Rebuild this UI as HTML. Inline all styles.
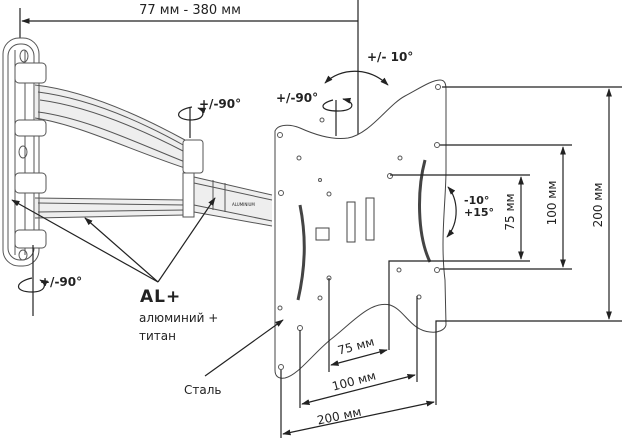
<!DOCTYPE html>
<html><head><meta charset="utf-8"><style>
html,body{margin:0;padding:0;background:#fff;width:622px;height:448px;overflow:hidden}
svg{display:block}
text{font-family:"DejaVu Sans","Liberation Sans",sans-serif;fill:#222}
</style></head><body>
<svg width="622" height="448" viewBox="0 0 622 448" xmlns="http://www.w3.org/2000/svg">
<defs>
<marker id="a" viewBox="0 0 10 10" refX="9" refY="5" markerWidth="7" markerHeight="7" orient="auto-start-reverse"><path d="M0,1.5 L10,5 L0,8.5 z" fill="#222"/></marker>
</defs>
<g fill="none" stroke="#222" stroke-width="1.2">
<line x1="20" y1="8" x2="20" y2="38"/>
<line x1="358" y1="0" x2="358" y2="140"/>
<line x1="22" y1="21" x2="358" y2="21" marker-start="url(#a)"/>
</g>
<text x="190" y="14" font-size="13" text-anchor="middle">77 мм - 380 мм</text>

<!-- arms fill -->
<path d="M35,85 C80,90 130,110 185,140 L185,168 C130,150 80,125 35,118 Z" fill="#eee"/>
<path d="M35,198 L185,200 L185,215 L35,218 Z" fill="#eee"/>
<path d="M194,177 L272,195 L272,226 L194,212 Z" fill="#eee"/>
<!-- wall plate -->
<g fill="none" stroke="#555" stroke-width="1">
<rect x="3" y="38" width="36" height="228" rx="16"/>
<rect x="8" y="44" width="26" height="216" rx="12"/>
<line x1="15" y1="50" x2="15" y2="255"/><line x1="25" y1="50" x2="25" y2="255"/>
<ellipse cx="24" cy="56" rx="4" ry="6"/><ellipse cx="23" cy="152" rx="4" ry="6"/><ellipse cx="23" cy="255" rx="4" ry="5"/>
<rect x="15" y="63" width="31" height="20" rx="4" fill="#fff"/>
<rect x="15" y="120" width="31" height="16" rx="4" fill="#fff"/>
<rect x="15" y="173" width="31" height="20" rx="4" fill="#fff"/>
<rect x="15" y="230" width="31" height="18" rx="4" fill="#fff"/>
<path d="M35,85 C80,90 130,110 185,140"/>
<path d="M35,118 C80,125 130,150 185,168"/>
<path d="M38,92 C85,98 135,118 185,146"/>
<path d="M38,112 C85,118 135,142 185,162"/>
<path d="M40,100 C85,106 135,126 185,152"/>
<path d="M35,198 L185,200"/><path d="M35,218 L185,215"/>
<path d="M38,203 L185,205"/><path d="M38,212 L185,210"/>
<rect x="183" y="140" width="20" height="33" rx="3" fill="#fff"/>
<rect x="183" y="173" width="11" height="44" fill="#fff"/>
<path d="M194,177 L272,195"/><path d="M194,212 L272,226"/>
<path d="M194,183 L272,200"/><path d="M194,205 L272,221"/>
<line x1="213" y1="180" x2="213" y2="210"/><line x1="225" y1="183" x2="225" y2="212"/>
</g>
<text x="232" y="206" font-size="4" fill="#333">ALUMINIUM</text>

<!-- plate -->
<g fill="none" stroke="#444" stroke-width="1">
<path d="M275,131 C278,124 290,124 300,128 C320,137 335,140 348,138 C370,134 388,105 405,96 C420,88 432,80 440,80 C445,80 446,84 446,90 L446,170 C446,200 440,240 445,280 L446,325 C445,330 438,333 430,332 C410,330 405,310 390,305 C370,300 350,325 330,340 C312,355 298,375 285,378 C278,379 275,376 275,370 Z" fill="#fff"/>
<path d="M300,205 C306,235 306,265 298,300" stroke-width="3"/>
<path d="M425,160 C417,190 417,235 430,262" stroke-width="3"/>
<rect x="347" y="202" width="8" height="40"/><rect x="366" y="198" width="8" height="42"/>
<rect x="316" y="228" width="13" height="12"/>
</g>
<g fill="none" stroke="#555" stroke-width="1">
<circle cx="438" cy="87" r="2.5"/><circle cx="437" cy="145" r="2.5"/><circle cx="390" cy="176" r="2.5"/>
<circle cx="437" cy="270" r="2.5"/><circle cx="399" cy="270" r="2"/><circle cx="419" cy="297" r="2"/>
<circle cx="280" cy="135" r="2.5"/><circle cx="299" cy="158" r="2"/><circle cx="400" cy="158" r="2"/>
<circle cx="322" cy="120" r="2"/><circle cx="281" cy="193" r="2.5"/><circle cx="329" cy="278" r="2"/>
<circle cx="320" cy="298" r="2"/><circle cx="300" cy="328" r="2.5"/><circle cx="281" cy="367" r="2.5"/>
<circle cx="280" cy="308" r="2"/><circle cx="329" cy="194" r="2"/><circle cx="320" cy="180" r="1.5"/>
</g>

<g fill="none" stroke="#222" stroke-width="1.2">
<line x1="442" y1="87" x2="622" y2="87"/>
<line x1="440" y1="145" x2="572" y2="145"/>
<line x1="390" y1="175" x2="530" y2="175"/>
<polyline points="389,350 389,261 530,261"/>
<line x1="440" y1="269" x2="572" y2="269"/>
<polyline points="436,405 436,321 622,321"/>
<line x1="609" y1="89" x2="609" y2="319" marker-start="url(#a)" marker-end="url(#a)"/>
<line x1="563" y1="147" x2="563" y2="267" marker-start="url(#a)" marker-end="url(#a)"/>
<line x1="521" y1="177" x2="521" y2="259" marker-start="url(#a)" marker-end="url(#a)"/>
<line x1="329" y1="278" x2="329" y2="372"/>
<line x1="417" y1="296" x2="417" y2="382"/>
<line x1="300" y1="330" x2="300" y2="408"/>
<line x1="281" y1="370" x2="281" y2="438"/>
<line x1="331" y1="365" x2="387" y2="350" marker-start="url(#a)" marker-end="url(#a)"/>
<line x1="302" y1="404" x2="415" y2="375" marker-start="url(#a)" marker-end="url(#a)"/>
<line x1="283" y1="434" x2="434" y2="402" marker-start="url(#a)" marker-end="url(#a)"/>
<path d="M448,187 C458,198 460,222 447,237" marker-start="url(#a)" marker-end="url(#a)"/>
<path d="M325,83 C340,68 368,66 388,85" marker-start="url(#a)" marker-end="url(#a)"/>
<line x1="336" y1="100" x2="336" y2="136"/>
<path d="M333,100 C318,104 320,111 338,111 C355,111 356,102 343,99" marker-end="url(#a)"/>
<line x1="190" y1="108" x2="190" y2="138"/>
<path d="M192,107 C175,110 174,119 190,120 C205,120 206,111 198,108" marker-end="url(#a)"/>
<line x1="33" y1="245" x2="33" y2="316"/>
<path d="M32,278 C14,282 14,292 32,292 C45,292 48,284 40,280" marker-end="url(#a)"/>
<line x1="158" y1="282" x2="12" y2="200" marker-end="url(#a)"/>
<line x1="158" y1="282" x2="85" y2="218" marker-end="url(#a)"/>
<line x1="158" y1="282" x2="215" y2="198" marker-end="url(#a)"/>
<line x1="205" y1="376" x2="283" y2="320" marker-end="url(#a)"/>
</g>

<text x="367" y="61" font-size="12" font-weight="bold">+/- 10°</text>
<text x="276" y="102" font-size="12" font-weight="bold">+/-90°</text>
<text x="199" y="108" font-size="12" font-weight="bold">+/-90°</text>
<text x="40" y="286" font-size="12" font-weight="bold">+/-90°</text>
<text x="464" y="204" font-size="11" font-weight="bold">-10°</text>
<text x="464" y="216" font-size="11" font-weight="bold">+15°</text>
<text x="140" y="302" font-size="17" font-weight="bold" letter-spacing="1">AL+</text>
<text x="139" y="322" font-size="12">алюминий +</text>
<text x="139" y="340" font-size="12">титан</text>
<text x="184" y="394" font-size="12">Сталь</text>
<text transform="translate(602,205) rotate(-90)" font-size="12" text-anchor="middle">200 мм</text>
<text transform="translate(556,203) rotate(-90)" font-size="12" text-anchor="middle">100 мм</text>
<text transform="translate(514,212) rotate(-90)" font-size="12" text-anchor="middle">75 мм</text>
<text transform="translate(357,350) rotate(-15)" font-size="12" text-anchor="middle">75 мм</text>
<text transform="translate(355,385) rotate(-15)" font-size="12" text-anchor="middle">100 мм</text>
<text transform="translate(340,420) rotate(-12)" font-size="12" text-anchor="middle">200 мм</text>
</svg>
</body></html>
